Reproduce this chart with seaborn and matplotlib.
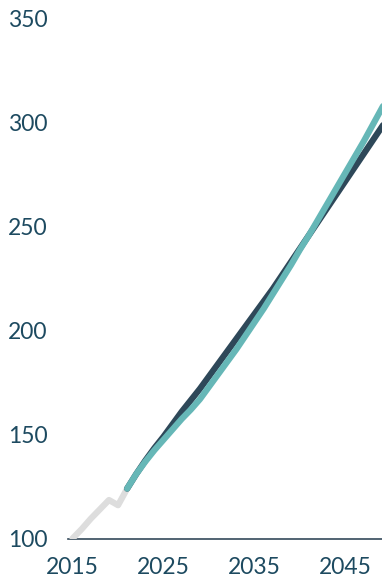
import matplotlib
matplotlib.use("Agg")
import matplotlib.pyplot as plt
import pandas as pd
import seaborn as sns

# historical index (2015 = 100)
hist_years = [2015, 2016, 2017, 2018, 2019, 2020, 2021]
hist_values = [100, 104.5, 109.5, 114, 118.5, 116, 124]

# projections
proj_years = list(range(2021, 2051))
proj_dark = [124, 131, 137.5, 143.5, 149, 155, 161, 166.5, 172, 178,
             184, 190, 196, 202, 208, 214, 220, 226.5, 233, 239.5,
             246, 252.5, 259, 265.5, 272, 278.5, 285, 291.5, 298, 304.5]
proj_teal = [124, 131, 137, 142.5, 147.5, 152.5, 157.5, 162, 167, 173,
             179, 185, 191, 197.5, 204, 210.5, 217.5, 224.5, 231.5, 239,
             246, 253.5, 261, 268.5, 276, 283.5, 291, 299, 307, 315]

y_ticks = [100, 150, 200, 250, 300, 350]
x_ticks = [2015, 2025, 2035, 2045]

TEXT = "#1d4a60"

sns.set_theme(style="white")
plt.rcParams["font.family"] = ["Lato", "DejaVu Sans"]

hist = pd.DataFrame({"year": hist_years, "value": hist_values})
proj = pd.DataFrame({"year": proj_years, "dark": proj_dark, "teal": proj_teal})

fig = plt.figure(figsize=(3.82, 5.80), dpi=100)
ax = fig.add_axes([68 / 382, 41.5 / 580, 314 / 382, 520 / 580])

sns.lineplot(data=hist, x="year", y="value", color="#dddddd", lw=4.5, ax=ax,
             solid_capstyle="round")
sns.lineplot(data=proj, x="year", y="dark", color="#2e4859", lw=4.5, ax=ax)
sns.lineplot(data=proj, x="year", y="teal", color="#66b7b7", lw=4.5, ax=ax)

ax.set_xlim(2014.5, 2049.0)
ax.set_ylim(100, 350)
ax.set_xticks(x_ticks)
ax.set_yticks(y_ticks)
ax.set_xlabel("")
ax.set_ylabel("")

for s in ["top", "right", "left"]:
    ax.spines[s].set_visible(False)
ax.spines["bottom"].set_color("#34495a")
ax.spines["bottom"].set_linewidth(1.2)
ax.spines["bottom"].set_zorder(0.5)

ax.tick_params(axis="both", length=0, labelsize=16.5, labelcolor=TEXT)
ax.tick_params(axis="y", pad=43)
ax.tick_params(axis="x", pad=13)
for lab in ax.get_yticklabels():
    lab.set_horizontalalignment("left")

fig.savefig("out.png", dpi=100)
